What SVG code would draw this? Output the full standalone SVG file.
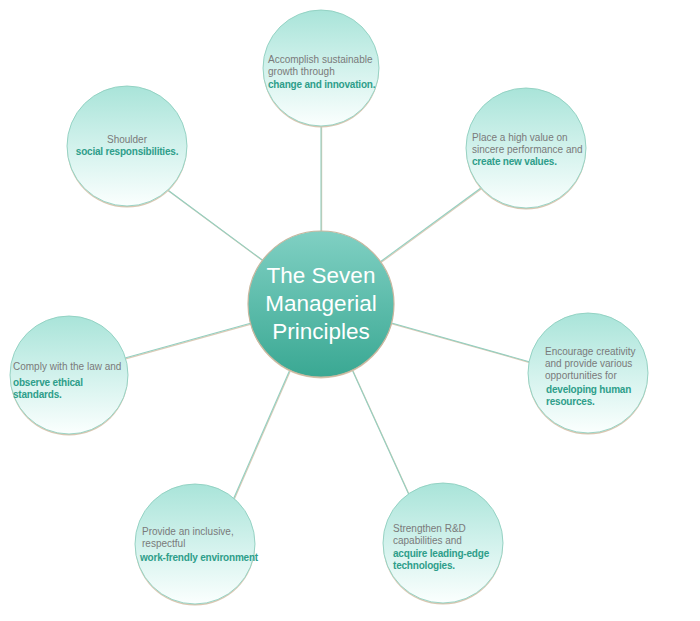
<svg xmlns="http://www.w3.org/2000/svg" width="700" height="621" viewBox="0 0 700 621">
<defs>
<linearGradient id="gOuter" x1="0" y1="0" x2="0" y2="1">
<stop offset="0" stop-color="#a9e4d9"/>
<stop offset="0.55" stop-color="#d6f3ee"/>
<stop offset="1" stop-color="#fbfffe"/>
</linearGradient>
<linearGradient id="gCenter" x1="0" y1="0" x2="0" y2="1">
<stop offset="0" stop-color="#80d0c3"/>
<stop offset="1" stop-color="#3aa893"/>
</linearGradient>
<style>
.sh{fill:#d9c7b1;}
.oc{fill:url(#gOuter);stroke:#8fcfbf;stroke-width:0.9;}
.cc{fill:url(#gCenter);stroke:#c7b79f;stroke-width:1.2;}
.t{font-family:"Liberation Sans",Arial,sans-serif;font-size:10px;fill:#7a7a7a;}
.b{font-family:"Liberation Sans",Arial,sans-serif;font-size:10px;font-weight:bold;fill:#2e9e8a;letter-spacing:-0.2px;}
.ct{font-family:"Liberation Sans",Arial,sans-serif;font-size:22.5px;fill:#ffffff;text-anchor:middle;}
.ls{stroke:#dccbb6;stroke-width:1.2;fill:none;}
.ln{stroke:#93cfc0;stroke-width:1.1;fill:none;}
</style>
</defs>
<rect width="700" height="621" fill="#ffffff"/>
<g id="connectors">
<g transform="translate(0.6,0.8)">
<line class="ls" x1="321" y1="120" x2="321" y2="240"/>
<line class="ls" x1="165" y1="188" x2="265" y2="262"/>
<line class="ls" x1="485" y1="185" x2="380" y2="262"/>
<line class="ls" x1="125" y1="358" x2="255" y2="322"/>
<line class="ls" x1="530" y1="362" x2="388" y2="322"/>
<line class="ls" x1="233" y1="500" x2="292" y2="365"/>
<line class="ls" x1="410" y1="497" x2="350" y2="365"/>
</g>
<line class="ln" x1="321" y1="120" x2="321" y2="240"/>
<line class="ln" x1="165" y1="188" x2="265" y2="262"/>
<line class="ln" x1="485" y1="185" x2="380" y2="262"/>
<line class="ln" x1="125" y1="358" x2="255" y2="322"/>
<line class="ln" x1="530" y1="362" x2="388" y2="322"/>
<line class="ln" x1="233" y1="500" x2="292" y2="365"/>
<line class="ln" x1="410" y1="497" x2="350" y2="365"/>
</g>
<g id="n-center">
<circle class="sh" cx="321" cy="305.5" r="73"/>
<circle class="cc" cx="321" cy="304" r="73"/>
<text class="ct" x="321" y="283">The Seven</text>
<text class="ct" x="321" y="311">Managerial</text>
<text class="ct" x="321" y="339">Principles</text>
</g>
<g id="n-top">
<circle class="sh" cx="321" cy="69.5" r="58"/>
<circle class="oc" cx="321" cy="68" r="58"/>
<text class="t" x="268" y="63">Accomplish sustainable</text>
<text class="t" x="268" y="75">growth through</text>
<text class="b" x="268" y="88">change and innovation.</text>
</g>
<g id="n-topleft">
<circle class="sh" cx="127" cy="147.5" r="60"/>
<circle class="oc" cx="127" cy="146" r="60"/>
<text class="t" x="127" y="143" text-anchor="middle">Shoulder</text>
<text class="b" x="127" y="155" text-anchor="middle">social responsibilities.</text>
</g>
<g id="n-topright">
<circle class="sh" cx="526" cy="149.5" r="60"/>
<circle class="oc" cx="526" cy="148" r="60"/>
<text class="t" x="472" y="141">Place a high value on</text>
<text class="t" x="472" y="153">sincere performance and</text>
<text class="b" x="472" y="165">create new values.</text>
</g>
<g id="n-left">
<circle class="sh" cx="69" cy="376.5" r="59"/>
<circle class="oc" cx="69" cy="375" r="59"/>
<text class="t" x="13" y="370">Comply with the law and</text>
<text class="b" x="13" y="386">observe ethical</text>
<text class="b" x="13" y="398">standards.</text>
</g>
<g id="n-right">
<circle class="sh" cx="588" cy="374.5" r="60"/>
<circle class="oc" cx="588" cy="373" r="60"/>
<text class="t" x="545" y="355">Encourage creativity</text>
<text class="t" x="545" y="367">and provide various</text>
<text class="t" x="545" y="379">opportunities for</text>
<text class="b" x="546" y="393">developing human</text>
<text class="b" x="546" y="405">resources.</text>
</g>
<g id="n-bottomleft">
<circle class="sh" cx="195" cy="545.5" r="60"/>
<circle class="oc" cx="195" cy="544" r="60"/>
<text class="t" x="142" y="535">Provide an inclusive,</text>
<text class="t" x="142" y="547">respectful</text>
<text class="b" x="140" y="561">work-frendly environment</text>
</g>
<g id="n-bottomright">
<circle class="sh" cx="443" cy="544.5" r="60"/>
<circle class="oc" cx="443" cy="543" r="60"/>
<text class="t" x="393" y="532">Strengthen R&amp;D</text>
<text class="t" x="393" y="544">capabilities and</text>
<text class="b" x="393" y="557">acquire leading-edge</text>
<text class="b" x="393" y="569">technologies.</text>
</g>
</svg>
